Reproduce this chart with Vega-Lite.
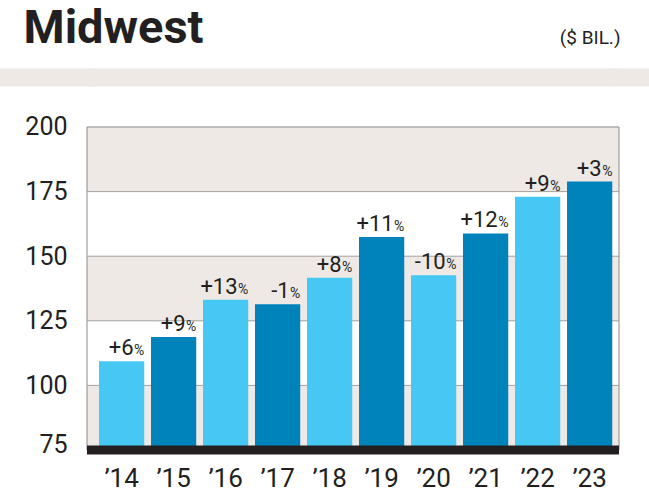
{
  "$schema": "https://vega.github.io/schema/vega-lite/v6.json",
  "autosize": {"type": "none"},
  "padding": {"left": 87, "top": 68, "right": 30, "bottom": 45},
  "width": 532,
  "height": 382,
  "background": "white",
  "view": {"fill": null, "stroke": null},
  "datasets": {
    "bars": [
      {"year": "’14", "value": 109.3, "chg": "+6"},
      {"year": "’15", "value": 118.7, "chg": "+9"},
      {"year": "’16", "value": 133.1, "chg": "+13"},
      {"year": "’17", "value": 131.4, "chg": "-1"},
      {"year": "’18", "value": 141.7, "chg": "+8"},
      {"year": "’19", "value": 157.4, "chg": "+11"},
      {"year": "’20", "value": 142.6, "chg": "-10"},
      {"year": "’21", "value": 158.8, "chg": "+12"},
      {"year": "’22", "value": 173.0, "chg": "+9"},
      {"year": "’23", "value": 178.9, "chg": "+3"}
    ],
    "stripes": [
      {"lo": 75, "hi": 100},
      {"lo": 125, "hi": 150},
      {"lo": 175, "hi": 200}
    ],
    "frame": [
      {"lo": 75, "hi": 200}
    ],
    "grid": [
      {"v": 100}, {"v": 125}, {"v": 150}, {"v": 175}
    ]
  },
  "resolve": {"axis": {"y": "independent"}},
  "layer": [
    {
      "data": {"name": "stripes"},
      "mark": {"type": "rect", "fill": "#efe9e6", "strokeWidth": 0},
      "encoding": {
        "x": {"value": 0},
        "x2": {"value": "width"},
        "y": {"field": "lo", "type": "quantitative", "scale": {"domain": [75, 222.83], "nice": false, "zero": false}, "axis": null},
        "y2": {"field": "hi"}
      }
    },
    {
      "data": {"name": "frame"},
      "mark": {"type": "rect", "fill": null, "stroke": "#8a8a8a", "strokeWidth": 1},
      "encoding": {
        "x": {"value": 0},
        "x2": {"value": "width"},
        "y": {"field": "lo", "type": "quantitative", "axis": null},
        "y2": {"field": "hi"}
      }
    },
    {
      "data": {"name": "grid"},
      "mark": {"type": "rule", "color": "#a0a0a0", "strokeWidth": 1},
      "encoding": {
        "y": {"field": "v", "type": "quantitative", "title": "($ BIL.)",
              "axis": {
                "orient": "right",
                "values": [219.35],
                "labels": false,
                "domain": false,
                "grid": false,
                "ticks": true,
                "tickSize": 30,
                "tickWidth": 18,
                "tickCap": "square",
                "tickColor": "#efe9e6",
                "titleAngle": 0,
                "titleX": 1,
                "titleY": -25,
                "titleAlign": "right",
                "titleBaseline": "alphabetic",
                "titleFont": "Roboto",
                "titleFontSize": 19,
                "titleFontWeight": "normal",
                "titleColor": "#231f20"
              }}
      }
    },
    {
      "data": {"name": "bars"},
      "mark": {"type": "bar"},
      "encoding": {
        "x": {"field": "year", "type": "nominal", "sort": null, "title": null,
              "scale": {"paddingInner": 0.13, "paddingOuter": 0.18, "align": 0.64}},
        "y": {"field": "value", "type": "quantitative", "title": "Midwest",
              "axis": {
                "values": [75, 100, 125, 150, 175, 200, 219.35],
                "labelExpr": "datum.value > 210 ? '' : datum.label",
                "labelOffset": {"condition": {"test": "datum.value == 75", "value": -6}, "value": 0},
                "labelPadding": -67,
                "ticks": true,
                "tickSize": 87,
                "tickWidth": 18,
                "tickCap": "square",
                "tickColor": {"condition": {"test": "datum.value > 210", "value": "#efe9e6"}, "value": "transparent"},
                "grid": true,
                "gridWidth": 18,
                "gridColor": {"condition": {"test": "datum.value > 210", "value": "#efe9e6"}, "value": "transparent"},
                "titleAngle": 0,
                "titleX": -64,
                "titleY": -26,
                "titleAlign": "left",
                "titleBaseline": "alphabetic",
                "titleFont": "Roboto",
                "titleFontSize": 47,
                "titleFontWeight": "bold",
                "titleColor": "#231f20"
              }},
        "y2": {"datum": 75},
        "color": {"field": "year", "type": "nominal", "sort": null, "legend": null,
                  "scale": {"range": ["#46c7f4", "#0082bb"]}}
      }
    },
    {
      "data": {"values": [{}]},
      "mark": {"type": "rule", "color": "#231f20", "strokeWidth": 9},
      "encoding": {
        "y": {"datum": 75, "axis": null}
      }
    },
    {
      "data": {"name": "bars"},
      "mark": {"type": "text", "align": "right", "baseline": "alphabetic", "dx": 12, "dy": -6,
               "font": "Roboto", "fontSize": 22, "color": "#231f20"},
      "encoding": {
        "x": {"field": "year", "type": "nominal", "sort": null},
        "y": {"field": "value", "type": "quantitative", "axis": null},
        "text": {"field": "chg"}
      }
    },
    {
      "data": {"name": "bars"},
      "mark": {"type": "text", "align": "left", "baseline": "alphabetic", "dx": 12.5, "dy": -6,
               "font": "Roboto", "fontSize": 14, "color": "#231f20", "text": "%"},
      "encoding": {
        "x": {"field": "year", "type": "nominal", "sort": null},
        "y": {"field": "value", "type": "quantitative", "axis": null}
      }
    }
  ],
  "config": {
    "font": "Roboto",
    "axisY": {
      "domain": false,
      "labelFont": "Roboto",
      "labelFontSize": 25,
      "labelColor": "#231f20",
      "labelPadding": 20
    },
    "axisX": {
      "domain": false,
      "ticks": false,
      "grid": false,
      "labelFont": "Roboto",
      "labelFontSize": 26,
      "labelColor": "#231f20",
      "labelPadding": 15,
      "labelAngle": 0
    }
  }
}
